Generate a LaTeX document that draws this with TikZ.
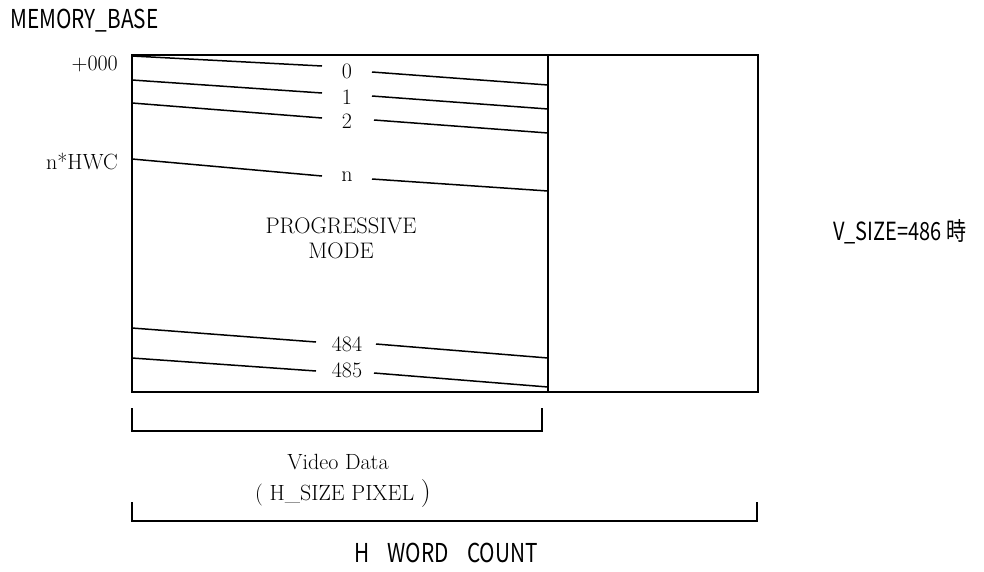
\documentclass[tikz,border=0pt]{standalone}
\usepackage{fontspec}
\newfontfamily\gothic[FakeStretch=0.8]{Noto Sans CJK JP}
\begin{document}
\begin{tikzpicture}[x=1pt,y=-1pt,
  frame/.style={draw=black,line width=1.6pt},
  row/.style={draw=black,line width=1.5pt},
  brace/.style={draw=black,line width=1.3pt},
  ser/.style={font=\fontsize{22}{25}\selectfont,inner sep=0pt},
  goth/.style={font=\gothic\fontsize{26}{28}\selectfont,inner sep=0pt}]
\useasboundingbox (0,0) rectangle (984,571);
% memory frame
\coordinate (tl) at (132,55);
\coordinate (mb) at (548,392);
\coordinate (br) at (758,392);
\draw[frame] (tl) rectangle (br);
\draw[frame] (548,55) -- (mb);
% rows
\node[ser] (l0) at (347,71) {0};
\node[ser] (l1) at (347,97) {1};
\node[ser] (l2) at (347,121) {2};
\node[ser] (ln) at (347,177) {n};
\node[ser] (l484) at (347,344) {484};
\node[ser] (l485) at (347,370) {485};
\draw[row] (132,56) -- (322,66) (372,72) -- (548,85);
\draw[row] (132,80) -- (322,93) (372,96) -- (548,109);
\draw[row] (132,103) -- (322,118) (374,120) -- (548,133);
\draw[row] (132,159) -- (322,176) (372,179) -- (548,191);
\draw[row] (132,328) -- (316,342) (376,344) -- (548,358);
\draw[row] (132,358) -- (316,371) (374,373) -- (548,387);
% left labels
\node[ser,anchor=east] (a0) at (118,64) {+000};
\node[ser,anchor=east] (an) at (118,161) {n*HWC};
\node[ser,align=center,font=\fontsize{22.5}{25}\selectfont] (mode) at (341,238) {PROGRESSIVE\\MODE};
\node[goth,anchor=west] (mem) at (10,21) {MEMORY\_BASE};
\node[goth,anchor=west,font=\gothic\fontsize{25}{28}\selectfont] (vs) at (833,232) {V\_SIZE=486 時};
% brackets
\coordinate (b1a) at (132,408);
\coordinate (b1b) at (542,408);
\draw[brace] (b1a) -- (132,431) -- (542,431) -- (b1b);
\node[ser] (vd) at (338,462) {Video Data};
\node[ser] (hs) at (343,494) {( H\_SIZE PIXEL {\fontsize{28}{28}\selectfont)}};
\coordinate (b2a) at (132,502);
\coordinate (b2b) at (757,502);
\draw[brace] (b2a) -- (132,521) -- (757,521) -- (b2b);
\node[goth] (hw) at (446,553) {H\hspace{0.7em}WORD\hspace{0.7em}COUNT};
\end{tikzpicture}
\end{document}
